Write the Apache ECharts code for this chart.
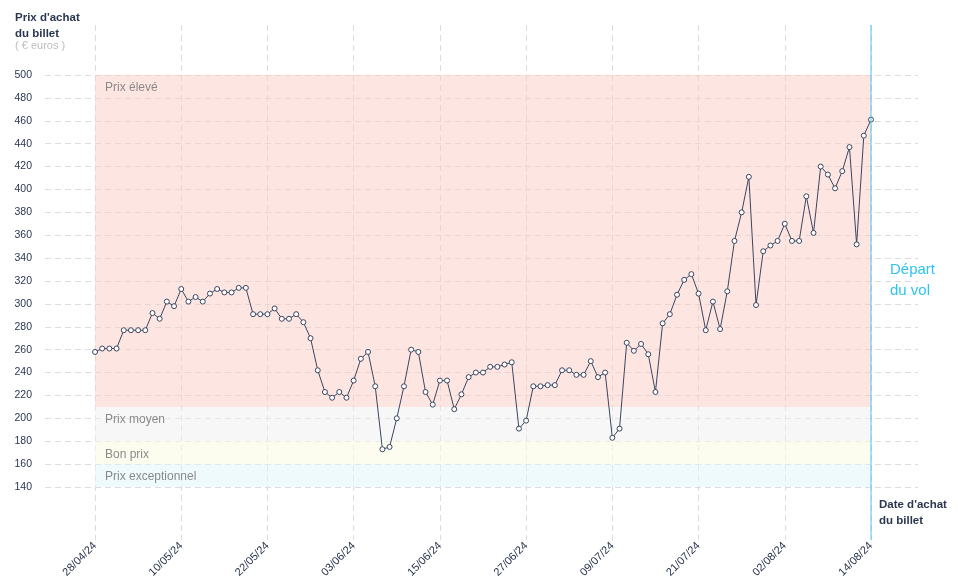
<!DOCTYPE html>
<html><head><meta charset="utf-8">
<script src="https://cdn.jsdelivr.net/npm/echarts@6/dist/echarts.min.js"></script>
<style>html,body{margin:0;padding:0;background:#fff}#c{width:958px;height:585px}</style>
</head><body><div id="c"></div>
<script>
// Daily purchase price (€) from 28/04/24 (day 0) to 14/08/24 (day 108)
const prices = [258,261,261,261,277,277,277,277,292,287,
  302,298,313,302,306,302,309,313,310,310,
  314,314,291,291,291,296,287,287,291,284,
  270,242,223,218,223,218,233,252,258,228,
  173,175,200,228,260,258,223,212,233,233,
  208,221,236,240,240,245,245,247,249,191,
  198,228,228,229,229,242,242,238,238,250,
  236,240,183,191,266,259,265,256,223,283,
  291,308,321,326,309,277,302,278,311,355,
  380,411,299,346,351,355,370,355,355,394,
  362,420,413,401,416,437,352,447,461];
const tickLabels = ['28/04/24','10/05/24','22/05/24','03/06/24','15/06/24','27/06/24','09/07/24','21/07/24','02/08/24','14/08/24'];
const bandNames = ['Prix élevé','Prix moyen','Bon prix','Prix exceptionnel'];
const bandLower = [210,180,160,140];
const bandUpper = [500,210,180,160];
const departureDay = 108;

const FONT = '"Liberation Sans", Arial, sans-serif';
const DARK = '#2b3650';
const LINE = '#3a4560';
const CYAN = '#4cc6ee';
const bandColors = ['rgba(251,205,195,0.5)','rgba(239,239,239,0.5)','rgba(251,251,229,0.6)','rgba(225,245,251,0.55)'];
const dash = {color:'#dcdcdc', width:1, type:[6,4]};

const chart = echarts.init(document.getElementById('c'));
chart.setOption({
  animation:false,
  textStyle:{fontFamily:FONT},
  grid:[
    {left:95, right:87, top:75, bottom:98},
    {left:45, right:40, top:75, bottom:98},
    {left:95, right:87, top:25, bottom:45}
  ],
  xAxis:[
    {gridIndex:0, type:'value', min:0, max:108, show:false},
    {gridIndex:1, type:'value', min:0, max:1, show:false},
    {gridIndex:2, type:'value', min:0, max:108, interval:12,
      axisLine:{show:false}, axisTick:{show:false},
      splitLine:{show:true, lineStyle:dash},
      axisLabel:{rotate:45, margin:4, fontSize:11, color:'#1f2a44', fontFamily:FONT,
        formatter:v=>tickLabels[Math.round(v/12)] || ''}}
  ],
  yAxis:[
    {gridIndex:0, type:'value', min:140, max:500, show:false},
    {gridIndex:1, type:'value', min:140, max:500, interval:20,
      axisLine:{show:false}, axisTick:{show:false},
      splitLine:{show:true, lineStyle:dash},
      axisLabel:{color:DARK, fontSize:10.5, margin:13, verticalAlign:'middle', padding:[0,0,10,0], fontFamily:FONT}},
    {gridIndex:2, type:'value', min:0, max:1, show:false}
  ],
  series:[
    {type:'line', xAxisIndex:0, yAxisIndex:0, z:3,
      data:prices.map((v,i)=>[i,v]),
      lineStyle:{color:LINE, width:1},
      symbol:'circle', symbolSize:5, showAllSymbol:true,
      itemStyle:{color:'#fff', borderColor:LINE, borderWidth:1},
      markArea:{silent:true,
        data:bandNames.map((n,k)=>[
          {name:n, xAxis:0, yAxis:bandUpper[k], itemStyle:{color:bandColors[k]},
            label:{show:true, position:'insideTopLeft', offset:[5,2], color:'#8a8a8a', fontSize:12, fontFamily:FONT}},
          {xAxis:108, yAxis:bandLower[k]}
        ])}
    },
    {type:'line', xAxisIndex:2, yAxisIndex:2, z:4, silent:true,
      data:[[departureDay,0],[departureDay,1]], symbol:'none',
      lineStyle:{color:CYAN, width:1, type:'solid'}}
  ],
  graphic:[
    {type:'text', left:15, top:10, style:{text:"Prix d'achat\ndu billet", font:'bold 11.5px '+FONT, fill:DARK, lineHeight:16}},
    {type:'text', left:15, top:40, style:{text:'( € euros )', font:'11px '+FONT, fill:'#bdbdbd'}},
    {type:'text', left:890, top:259, style:{text:'Départ\ndu vol', font:'15px '+FONT, fill:'#2ec4f1', lineHeight:21}},
    {type:'text', left:879, top:497, style:{text:"Date d'achat\ndu billet", font:'bold 11.5px '+FONT, fill:DARK, lineHeight:16}}
  ]
});
</script></body></html>
